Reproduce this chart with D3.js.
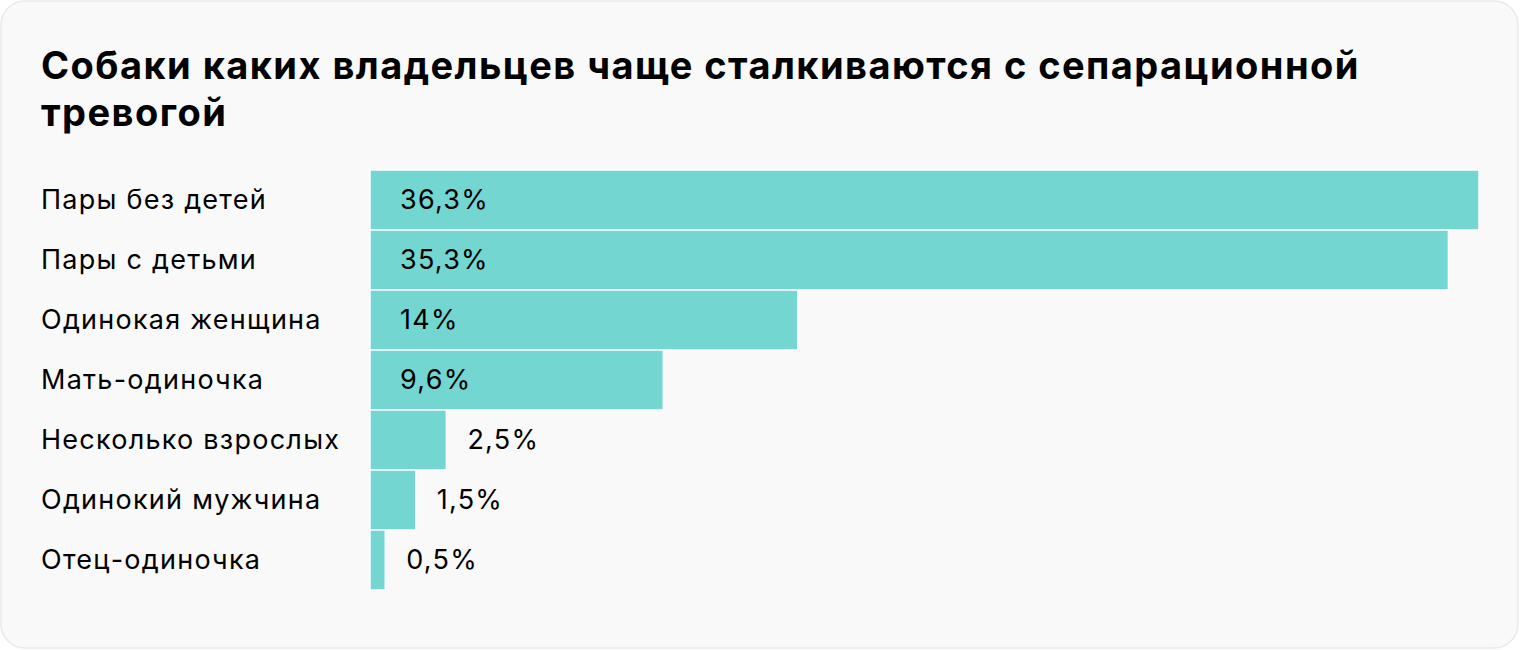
<!DOCTYPE html>
<html>
<head>
<meta charset="utf-8">
<script src="https://cdn.jsdelivr.net/npm/d3@7"></script>
<style>
  html, body { margin: 0; padding: 0; background: #ffffff; }
  svg { display: block; }
</style>
</head>
<body>
<svg id="chart" width="1520" height="650"></svg>
<script>
const titleLines = ["Собаки каких владельцев чаще сталкиваются с сепарационной", "тревогой"];
const categories = ["Пары без детей", "Пары с детьми", "Одинокая женщина", "Мать-одиночка", "Несколько взрослых", "Одинокий мужчина", "Отец-одиночка"];
const values = [36.3, 35.3, 14, 9.6, 2.5, 1.5, 0.5];
const valueLabels = ["36,3%", "35,3%", "14%", "9,6%", "2,5%", "1,5%", "0,5%"];

const svg = d3.select("#chart");
const font = "Inter, 'Noto Sans', sans-serif";

svg.append("rect")
  .attr("x", 1).attr("y", 1).attr("width", 1517).attr("height", 647)
  .attr("rx", 24).attr("ry", 24)
  .attr("fill", "#f9f9f9").attr("stroke", "#e9e9e9").attr("stroke-width", 1.5);

const title = svg.append("text")
  .attr("x", 41).attr("y", 79)
  .attr("font-family", font).attr("font-weight", 700)
  .attr("font-size", 38).attr("letter-spacing", 1.45).attr("fill", "#000");
titleLines.forEach((t, i) => {
  title.append("tspan").attr("x", 41).attr("y", 79 + i * 47).text(t);
});

const x = d3.scaleLinear().domain([0, 36.3]).range([370, 1479]);
const y = d3.scaleBand().domain(categories).range([170, 590]).padding(0);

const g = svg.append("g");

g.selectAll("rect.bar").data(categories).join("rect")
  .attr("class", "bar")
  .attr("x", x(0))
  .attr("y", d => y(d))
  .attr("width", (d, i) => x(values[i]) - x(0))
  .attr("height", y.bandwidth())
  .attr("fill", "#73d6d0")
  .attr("stroke", "#ffffff").attr("stroke-width", 1.5);

g.selectAll("text.cat").data(categories).join("text")
  .attr("class", "cat")
  .attr("x", 41)
  .attr("y", d => y(d) + y.bandwidth() / 2)
  .attr("dy", "0.35em")
  .attr("font-family", font).attr("font-size", 27).attr("letter-spacing", 1.25).attr("fill", "#000")
  .text(d => d);

g.selectAll("text.val").data(categories).join("text")
  .attr("class", "val")
  .attr("x", (d, i) => values[i] > 5 ? x(0) + 30 : x(values[i]) + 21)
  .attr("y", d => y(d) + y.bandwidth() / 2)
  .attr("dy", "0.35em")
  .attr("font-family", font).attr("font-size", 27).attr("letter-spacing", 1.25).attr("fill", "#000")
  .text((d, i) => valueLabels[i]);
</script>
</body>
</html>
